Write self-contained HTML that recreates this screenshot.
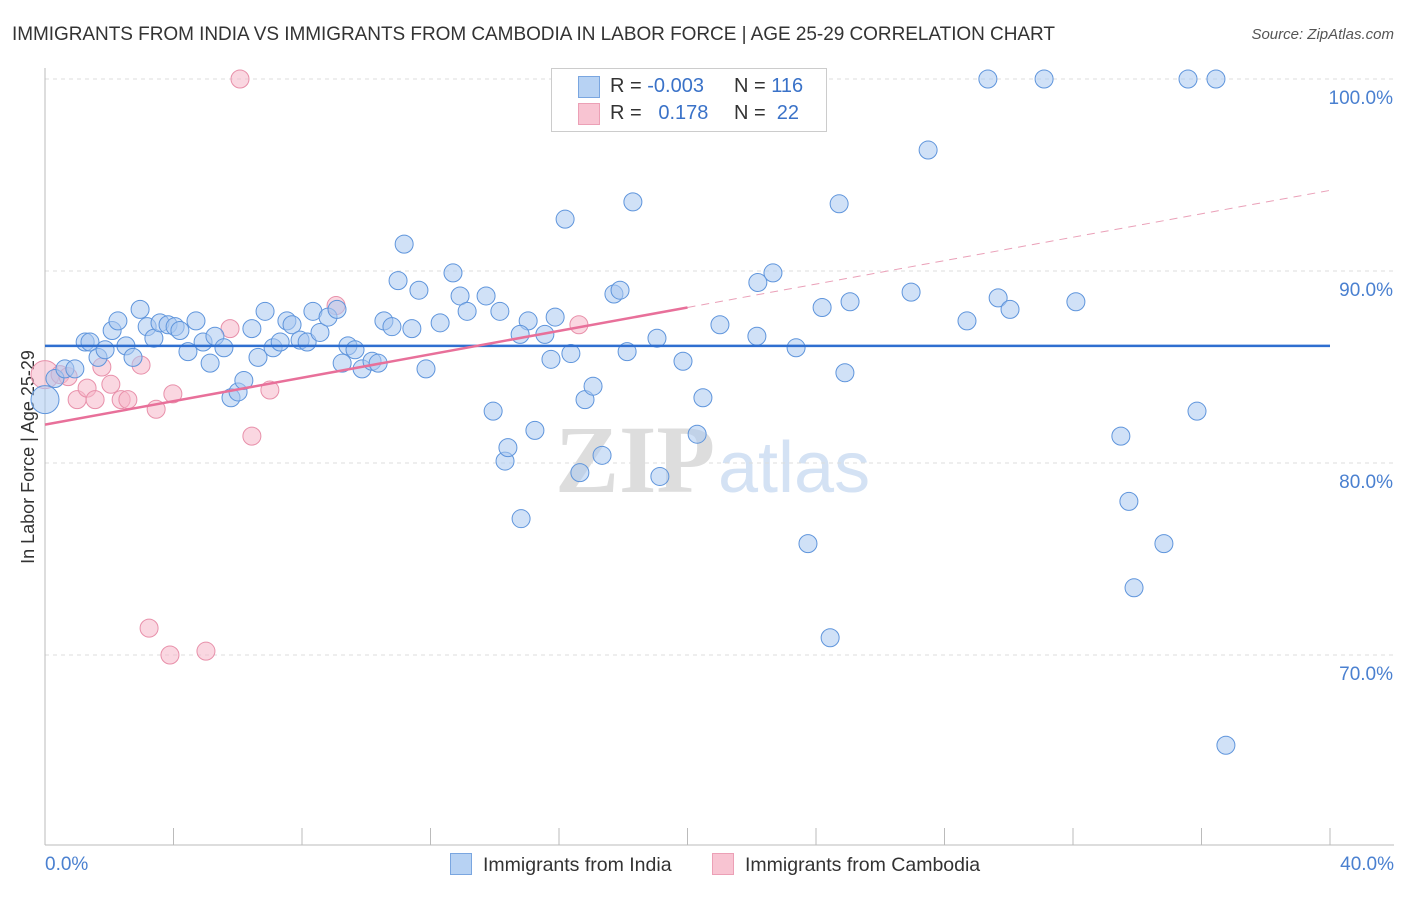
<!DOCTYPE html>
<html><head><meta charset="utf-8"><style>
body{margin:0;background:#fff;font-family:"Liberation Sans",sans-serif}
#wrap{position:relative;width:1406px;height:892px}
</style></head><body>
<div id="wrap">
<svg id="svg" width="1406" height="892" xmlns="http://www.w3.org/2000/svg">
<text x="12" y="40" font-size="19" fill="#333" textLength="1043">IMMIGRANTS FROM INDIA VS IMMIGRANTS FROM CAMBODIA IN LABOR FORCE | AGE 25-29 CORRELATION CHART</text>
<text x="1394" y="39" font-size="15" fill="#555" font-style="italic" text-anchor="end">Source: ZipAtlas.com</text>
<text x="555" y="492" font-size="96" fill="#ddd" font-family="Liberation Serif" font-weight="bold">ZIP</text>
<text x="718" y="492" font-size="72" fill="#d4e2f4">atlas</text>
<text transform="translate(34,457) rotate(-90)" font-size="18" fill="#333" text-anchor="middle">In Labor Force | Age 25-29</text>
<g id="grid"></g><g id="marks"></g>
</svg>
<div style="position:absolute;left:551px;top:68px;width:274px;height:62px;border:1px solid #ccc;background:#fff;font-size:20px;color:#333">
 <div style="position:absolute;left:26px;top:7px;width:20px;height:20px;background:#b7d2f3;border:1px solid #7aa6e0"></div>
 <div style="position:absolute;left:58px;top:6px">R = <span style="color:#3a72c8">-0.003</span></div>
 <div style="position:absolute;left:182px;top:6px">N = <span style="color:#3a72c8">116</span></div>
 <div style="position:absolute;left:26px;top:34px;width:20px;height:20px;background:#f8c4d2;border:1px solid #eca0b6"></div>
 <div style="position:absolute;left:58px;top:33px">R = <span style="color:#3a72c8">&nbsp;&nbsp;0.178</span></div>
 <div style="position:absolute;left:182px;top:33px">N = <span style="color:#3a72c8">&nbsp;22</span></div>
</div>
<div style="position:absolute;top:853px;left:450px;font-size:19.5px;color:#333">
 <span style="position:absolute;left:0;top:0;white-space:nowrap"><span style="display:inline-block;width:20px;height:20px;background:#b7d2f3;border:1px solid #7aa6e0;vertical-align:-4px;margin-right:11px"></span>Immigrants from India</span>
 <span style="position:absolute;left:262px;top:0;white-space:nowrap"><span style="display:inline-block;width:20px;height:20px;background:#f8c4d2;border:1px solid #eca0b6;vertical-align:-4px;margin-right:11px"></span>Immigrants from Cambodia</span>
</div>
</div>
<script>
const indiaX=[0,.31,.62,.93,1.25,1.4,1.65,1.87,2.09,2.27,2.52,2.74,2.96,3.18,3.39,3.58,3.83,4.05,4.2,4.45,4.7,4.92,5.14,5.29,5.57,5.79,6.01,6.19,6.44,6.63,6.85,7.1,7.32,7.53,7.69,7.94,8.16,8.34,8.56,8.81,9.09,9.25,9.43,9.65,9.87,10.18,10.37,10.55,10.8,10.99,11.18,11.42,11.64,11.86,12.3,12.7,12.92,13.14,13.73,13.95,14.16,14.32,14.41,14.82,15.04,15.25,14.79,15.56,15.75,15.88,16.19,16.37,16.65,16.81,17.06,17.34,17.71,17.9,18.12,18.3,19.05,19.14,19.86,20.3,20.48,21.01,22.16,22.19,22.66,23.38,23.75,24.19,24.44,24.72,24.9,25.06,26.96,27.49,28.7,29.35,29.67,30.04,31.1,32.09,33.49,33.74,33.9,34.83,35.58,35.86,36.45,36.76];
const indiaY=[83.3,84.4,84.9,84.9,86.3,86.3,85.5,85.9,86.9,87.4,86.1,85.5,88,87.1,86.5,87.3,87.2,87.1,86.9,85.8,87.4,86.3,85.2,86.6,86,83.4,83.7,84.3,87,85.5,87.9,86,86.3,87.4,87.2,86.4,86.3,87.9,86.8,87.6,88,85.2,86.1,85.9,84.9,85.3,85.2,87.4,87.1,89.5,91.4,87,89,84.9,87.3,89.9,88.7,87.9,88.7,82.7,87.9,80.1,80.8,77.1,87.4,81.7,86.7,86.7,85.4,87.6,92.7,85.7,79.5,83.3,84,80.4,88.8,89,85.8,93.6,86.5,79.3,85.3,81.5,83.4,87.2,86.6,89.4,89.9,86,75.8,88.1,70.9,93.5,84.7,88.4,88.9,96.3,87.4,100,88.6,88,100,88.4,81.4,78,73.5,75.8,100,82.7,100,65.3];
const cambX=[0,.47,.72,1,1.31,1.56,1.77,2.05,2.37,2.58,2.99,3.24,3.46,3.89,3.98,5.01,5.76,6.07,6.44,7,9.06,16.62];
const cambY=[84.6,84.6,84.5,83.3,83.9,83.3,85,84.1,83.3,83.3,85.1,71.4,82.8,70,83.6,70.2,87,100,81.4,83.8,88.2,87.2];
const indiaTrend=[86.1,86.1];
const cambTrend=[82.0,88.1,94.2];
const yTicks=[100,90,80,70];
const xTickLabels=["0.0%","40.0%"];
const X=v=>45+v/40*1285, Y=v=>79+(100-v)*19.2;
const NS="http://www.w3.org/2000/svg";
function mk(p,t,a){const e=document.createElementNS(NS,t);for(const k in a)e.setAttribute(k,a[k]);p.appendChild(e);return e;}
const g=document.getElementById('grid'),m=document.getElementById('marks');
yTicks.forEach(v=>{const l=mk(g,'line',{x1:45,x2:1394,y1:Y(v),y2:Y(v),stroke:'#ddd','stroke-dasharray':'4,4'});


const t=mk(g,'text',{x:1393,y:Y(v)+25,'font-size':19,fill:'#4a80d0','text-anchor':'end'});t.textContent=v.toFixed(1)+'%';

});
const ax=mk(g,'line',{x1:45,x2:1394,y1:845,y2:845,stroke:'#bbb'});


const ay=mk(g,'line',{x1:45,x2:45,y1:68,y2:845,stroke:'#bbb'});


for(let i=0;i<=10;i++){const l=mk(g,'line',{x1:X(i*4),x2:X(i*4),y1:828,y2:845,stroke:'#bbb'});

}
[[0,'start',45],[1,'end',1394]].forEach(([i,a,x])=>{const t=mk(g,'text',{x:x,y:870,'font-size':19,fill:'#4a80d0','text-anchor':a});t.textContent=xTickLabels[i];

});
function dots(xs,ys,fill,st,name){xs.forEach((x,i)=>{const c=mk(m,'circle',{cx:X(x),cy:Y(ys[i]),r:(i==0?14:9),fill:fill,'fill-opacity':0.55,stroke:st,'stroke-width':1});

});}
dots(cambX,cambY,'#f6b6c8','#e890aa','cambodia-point');
dots(indiaX,indiaY,'#a9c9f1','#5f95dc','india-point');
const l1=mk(m,'line',{x1:X(0),x2:X(40),y1:Y(indiaTrend[0]),y2:Y(indiaTrend[1]),stroke:'#2f6fd0','stroke-width':2.5});


const l2=mk(m,'line',{x1:X(0),x2:X(20),y1:Y(cambTrend[0]),y2:Y(cambTrend[1]),stroke:'#e8709a','stroke-width':2.5});


const l3=mk(m,'line',{x1:X(20),x2:X(40),y1:Y(cambTrend[1]),y2:Y(cambTrend[2]),stroke:'#eaa0b8','stroke-width':1,'stroke-dasharray':'8,6'});


</script>
</body></html>
